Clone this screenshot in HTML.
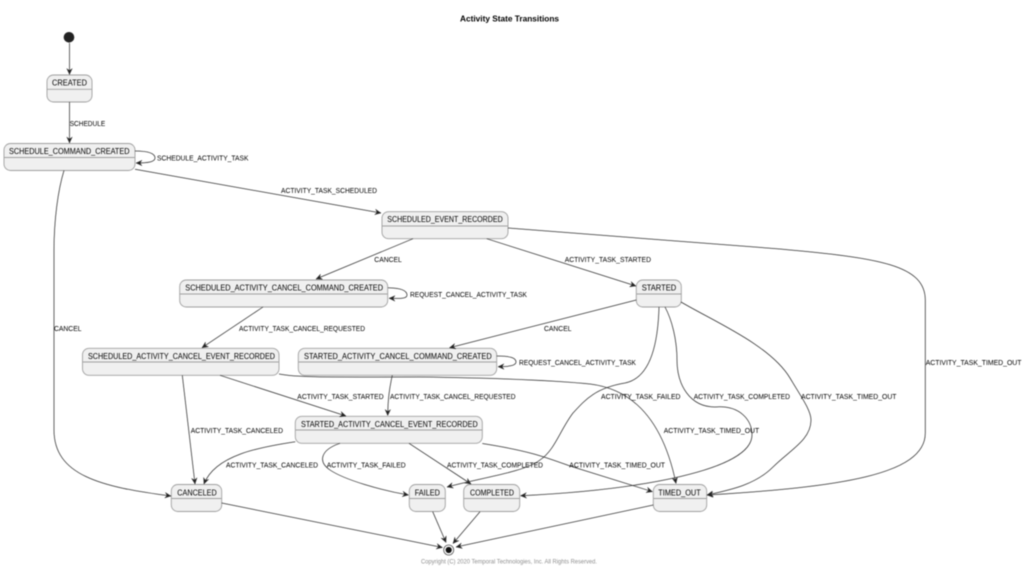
<!DOCTYPE html>
<html><head><meta charset="utf-8"><style>
html,body{margin:0;padding:0;background:#fff;width:1024px;height:571px;overflow:hidden}
svg{display:block;filter:blur(.42px)}
text{font-family:"Liberation Sans",sans-serif;fill:#000}
.l{font-size:7.6px}
.n{font-size:8.2px}
.e{fill:none;stroke:#333;stroke-width:.75;marker-end:url(#a)}
.b{fill:#f0f0f0;stroke:#a0a0a0;stroke-width:.9}
.d{stroke:#a0a0a0;stroke-width:.9}
</style></head><body>
<svg width="1024" height="571" viewBox="0 0 1024 571" xmlns="http://www.w3.org/2000/svg">
<defs><marker id="a" markerUnits="userSpaceOnUse" markerWidth="12" markerHeight="10" refX="8" refY="4" orient="auto" viewBox="0 0 12 8"><path d="M2,1.2 L8,4 L2,6.8 L4,4 Z" fill="#222" stroke="#222" stroke-width=".3"/></marker></defs>

<!-- states -->
<rect class="b" x="47" y="75" width="45" height="27" rx="6.5"/><line class="d" x1="47" x2="92" y1="89.3" y2="89.3"/>
<rect class="b" x="4" y="143.5" width="131" height="27" rx="6.5"/><line class="d" x1="4" x2="135" y1="157.5" y2="157.5"/>
<rect class="b" x="382" y="211.7" width="126" height="27" rx="6.5"/><line class="d" x1="382" x2="508" y1="226" y2="226"/>
<rect class="b" x="179.7" y="280" width="208" height="27" rx="6.5"/><line class="d" x1="179.7" x2="387.7" y1="294" y2="294"/>
<rect class="b" x="636.3" y="280" width="45" height="27" rx="6.5"/><line class="d" x1="636.3" x2="681.3" y1="294" y2="294"/>
<rect class="b" x="82.5" y="348.3" width="196.5" height="27" rx="6.5"/><line class="d" x1="82.5" x2="279" y1="362" y2="362"/>
<rect class="b" x="298.3" y="348.3" width="198.4" height="27" rx="6.5"/><line class="d" x1="298.3" x2="496.7" y1="362" y2="362"/>
<rect class="b" x="295.3" y="416.3" width="187" height="27" rx="6.5"/><line class="d" x1="295.3" x2="482.3" y1="430" y2="430"/>
<rect class="b" x="171.3" y="484.5" width="50.4" height="27" rx="6.5"/><line class="d" x1="171.3" x2="221.7" y1="498.5" y2="498.5"/>
<rect class="b" x="409.3" y="484.5" width="36" height="27" rx="6.5"/><line class="d" x1="409.3" x2="445.3" y1="498.5" y2="498.5"/>
<rect class="b" x="463.7" y="484.5" width="56" height="27" rx="6.5"/><line class="d" x1="463.7" x2="519.7" y1="498.5" y2="498.5"/>
<rect class="b" x="653.3" y="484.5" width="53.4" height="27" rx="6.5"/><line class="d" x1="653.3" x2="706.7" y1="498.5" y2="498.5"/>

<!-- start / end -->
<circle cx="69" cy="37.3" r="5.3" fill="#222"/>
<circle cx="448.7" cy="550" r="5" fill="#fff" stroke="#555" stroke-width=".8"/>
<circle cx="448.7" cy="550" r="3.1" fill="#111"/>

<!-- edges -->
<path class="e" d="M69.5,43 L69.5,74.5"/>
<path class="e" d="M69.5,102 L69.5,143"/>
<path class="e" d="M135,151 C150,151 155,154 155,158 C155,162 148,163 136,163"/>
<path class="e" d="M135,169.3 L381,213"/>
<path class="e" d="M64,170.5 C58,190 54,220 54,250 L54,430 C54,475 100,487 171,496"/>
<path class="e" d="M413,238.7 L316,279"/>
<path class="e" d="M486.7,238.7 L636,286"/>
<path class="e" d="M636.3,300 L449.5,347.7"/>
<path class="e" d="M508,228 L780,249 C880,258 925,265 925.3,300 L925.3,433 C925.3,475 840,487 707,495"/>
<path class="e" d="M388,287.7 C402,288 407,291 407,295 C407,299 400,298.5 389,298.3"/>
<path class="e" d="M263,307 L202,347.7"/>
<path class="e" d="M182.3,375.3 L195,484"/>
<path class="e" d="M220,375.3 L346,416"/>
<path class="e" d="M279,374 C300,378 340,377 420,377 C500,378 560,381 590,384 C640,390 665,430 676,483.5"/>
<path class="e" d="M392.3,375.3 C389,390 388,400 387.7,415.5"/>
<path class="e" d="M496.7,356 C511,356 516,358 516,362 C516,366 508,366.5 498,366.7"/>
<path class="e" d="M295.3,441.7 C260,447 215,455 204,484"/>
<path class="e" d="M340,443.3 C320,450 318,462 330,470 C345,480 380,490 408.5,495"/>
<path class="e" d="M409,443.3 L471,484"/>
<path class="e" d="M482.3,443.5 C530,451 545,457 570,466 L652.5,491.7"/>
<path class="e" d="M659,307 C658,345 650,378 625,383 C595,388 585,400 573,413 C560,430 555,450 540,460 C525,472 480,478 447,487"/>
<path class="e" d="M665,307 C672,320 677,340 677,360 C677,385 690,407 715,407 C740,405 752,420 752,435 C752,470 640,490 520.5,495.7"/>
<path class="e" d="M681,302 C715,322 770,345 790,378 C800,395 811,410 811,420 C811,440 790,450 773,467 C755,485 730,490 707,495"/>
<path class="e" d="M221.7,503 L442.5,547.5"/>
<path class="e" d="M432.7,511.7 L446,542.5"/>
<path class="e" d="M480,511.7 L453,543.5"/>
<path class="e" d="M653.3,505 L456,547"/>

<!-- state labels -->
<text class="n" x="52" y="85.5" textLength="35" lengthAdjust="spacingAndGlyphs">CREATED</text>
<text class="n" x="9" y="154" textLength="120.5" lengthAdjust="spacingAndGlyphs">SCHEDULE_COMMAND_CREATED</text>
<text class="n" x="387.3" y="222" textLength="115.4" lengthAdjust="spacingAndGlyphs">SCHEDULED_EVENT_RECORDED</text>
<text class="n" x="185.3" y="290.5" textLength="197.7" lengthAdjust="spacingAndGlyphs">SCHEDULED_ACTIVITY_CANCEL_COMMAND_CREATED</text>
<text class="n" x="641.7" y="290.5" textLength="34.5" lengthAdjust="spacingAndGlyphs">STARTED</text>
<text class="n" x="88" y="359" textLength="187" lengthAdjust="spacingAndGlyphs">SCHEDULED_ACTIVITY_CANCEL_EVENT_RECORDED</text>
<text class="n" x="304" y="359" textLength="187.7" lengthAdjust="spacingAndGlyphs">STARTED_ACTIVITY_CANCEL_COMMAND_CREATED</text>
<text class="n" x="301" y="427" textLength="176.7" lengthAdjust="spacingAndGlyphs">STARTED_ACTIVITY_CANCEL_EVENT_RECORDED</text>
<text class="n" x="177.3" y="495.5" textLength="39.4" lengthAdjust="spacingAndGlyphs">CANCELED</text>
<text class="n" x="414.7" y="495.5" textLength="25.3" lengthAdjust="spacingAndGlyphs">FAILED</text>
<text class="n" x="470" y="495.5" textLength="44" lengthAdjust="spacingAndGlyphs">COMPLETED</text>
<text class="n" x="658.3" y="495.5" textLength="42.4" lengthAdjust="spacingAndGlyphs">TIMED_OUT</text>

<!-- edge labels -->
<text class="l" x="69.7" y="126" textLength="35.5" lengthAdjust="spacingAndGlyphs">SCHEDULE</text>
<text class="l" x="157" y="160.5" textLength="91.5" lengthAdjust="spacingAndGlyphs">SCHEDULE_ACTIVITY_TASK</text>
<text class="l" x="281" y="193" textLength="96" lengthAdjust="spacingAndGlyphs">ACTIVITY_TASK_SCHEDULED</text>
<text class="l" x="374.3" y="262" textLength="27.5" lengthAdjust="spacingAndGlyphs">CANCEL</text>
<text class="l" x="564.7" y="262" textLength="86.3" lengthAdjust="spacingAndGlyphs">ACTIVITY_TASK_STARTED</text>
<text class="l" x="410" y="297" textLength="117" lengthAdjust="spacingAndGlyphs">REQUEST_CANCEL_ACTIVITY_TASK</text>
<text class="l" x="239" y="331" textLength="126" lengthAdjust="spacingAndGlyphs">ACTIVITY_TASK_CANCEL_REQUESTED</text>
<text class="l" x="544" y="331" textLength="27.5" lengthAdjust="spacingAndGlyphs">CANCEL</text>
<text class="l" x="54" y="331" textLength="27.5" lengthAdjust="spacingAndGlyphs">CANCEL</text>
<text class="l" x="519" y="365" textLength="117" lengthAdjust="spacingAndGlyphs">REQUEST_CANCEL_ACTIVITY_TASK</text>
<text class="l" x="925.7" y="365" textLength="95.8" lengthAdjust="spacingAndGlyphs">ACTIVITY_TASK_TIMED_OUT</text>
<text class="l" x="297.3" y="399" textLength="86.3" lengthAdjust="spacingAndGlyphs">ACTIVITY_TASK_STARTED</text>
<text class="l" x="390" y="399" textLength="125.5" lengthAdjust="spacingAndGlyphs">ACTIVITY_TASK_CANCEL_REQUESTED</text>
<text class="l" x="601" y="399" textLength="79.5" lengthAdjust="spacingAndGlyphs">ACTIVITY_TASK_FAILED</text>
<text class="l" x="693.7" y="399" textLength="96.3" lengthAdjust="spacingAndGlyphs">ACTIVITY_TASK_COMPLETED</text>
<text class="l" x="801" y="399" textLength="95.5" lengthAdjust="spacingAndGlyphs">ACTIVITY_TASK_TIMED_OUT</text>
<text class="l" x="663.7" y="433" textLength="95.5" lengthAdjust="spacingAndGlyphs">ACTIVITY_TASK_TIMED_OUT</text>
<text class="l" x="190.7" y="433" textLength="92.3" lengthAdjust="spacingAndGlyphs">ACTIVITY_TASK_CANCELED</text>
<text class="l" x="226" y="467.5" textLength="92" lengthAdjust="spacingAndGlyphs">ACTIVITY_TASK_CANCELED</text>
<text class="l" x="326.7" y="467.5" textLength="79" lengthAdjust="spacingAndGlyphs">ACTIVITY_TASK_FAILED</text>
<text class="l" x="447" y="467.5" textLength="96" lengthAdjust="spacingAndGlyphs">ACTIVITY_TASK_COMPLETED</text>
<text class="l" x="569.3" y="467.5" textLength="95.7" lengthAdjust="spacingAndGlyphs">ACTIVITY_TASK_TIMED_OUT</text>

<text x="460" y="21.5" font-size="8.2" font-weight="bold" textLength="99" lengthAdjust="spacingAndGlyphs">Activity State Transitions</text>
<text x="421" y="563.5" font-size="6.1" style="fill:#8f8f8f" textLength="176" lengthAdjust="spacingAndGlyphs">Copyright (C) 2020 Temporal Technologies, Inc. All Rights Reserved.</text>
</svg>
</body></html>
